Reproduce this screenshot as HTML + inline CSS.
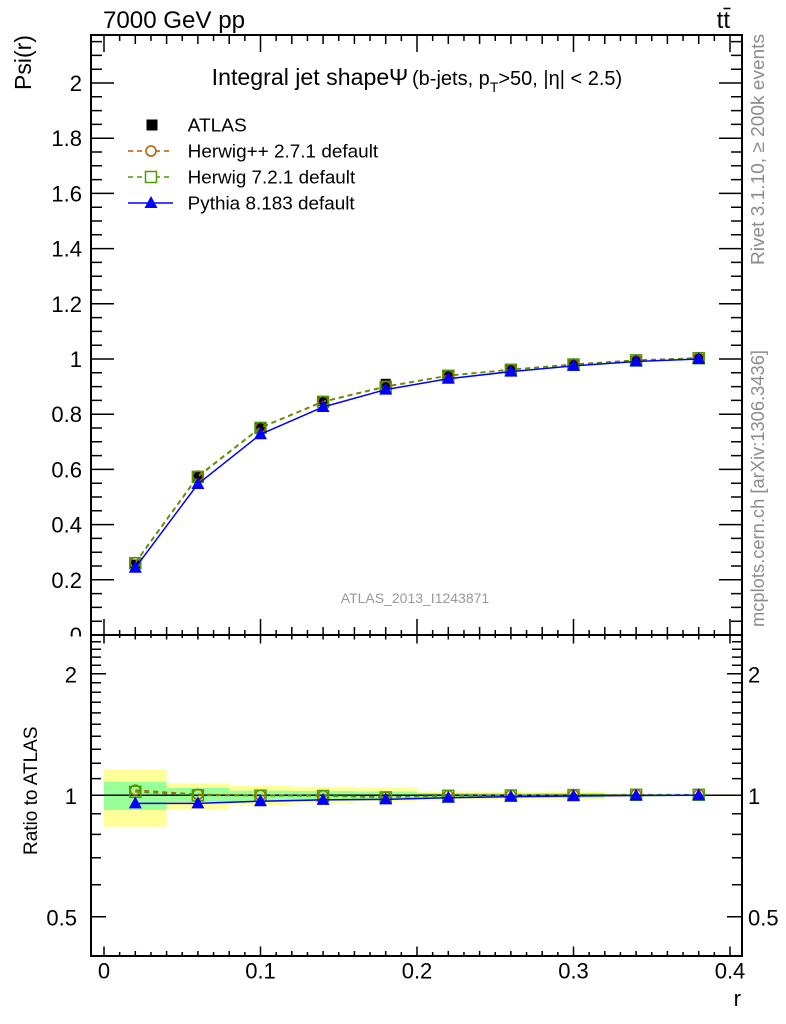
<!DOCTYPE html>
<html><head><meta charset="utf-8"><style>
html,body{margin:0;padding:0;background:#fff;}
svg{display:block}
text{font-family:"Liberation Sans",Arial,sans-serif;}
</style></head><body>
<svg width="786" height="1024" viewBox="0 0 786 1024" xmlns="http://www.w3.org/2000/svg">
<defs>
<path id="xM" d="M104 0V1M260.5 0V1M417 0V1M573.5 0V1M730 0V1"/>
<path id="xS" d="M135.3 0V1M166.6 0V1M197.9 0V1M229.2 0V1M291.8 0V1M323.1 0V1M354.4 0V1M385.7 0V1M448.3 0V1M479.6 0V1M510.9 0V1M542.2 0V1M604.8 0V1M636.1 0V1M667.4 0V1M698.7 0V1"/>
<path id="xT" d="M119.65 0V1M150.95 0V1M182.25 0V1M213.55 0V1M244.85 0V1M276.15 0V1M307.45 0V1M338.75 0V1M370.05 0V1M401.35 0V1M432.65 0V1M463.95 0V1M495.25 0V1M526.55 0V1M557.85 0V1M589.15 0V1M620.45 0V1M651.75 0V1M683.05 0V1M714.35 0V1"/>
<path id="yM" d="M0 579.8H1M0 524.6H1M0 469.4H1M0 414.2H1M0 359H1M0 303.8H1M0 248.6H1M0 193.4H1M0 138.2H1M0 83H1"/>
<path id="ym" d="M0 621.2H1M0 607.4H1M0 593.6H1M0 566H1M0 552.2H1M0 538.4H1M0 510.8H1M0 497H1M0 483.2H1M0 455.6H1M0 441.8H1M0 428H1M0 400.4H1M0 386.6H1M0 372.8H1M0 345.2H1M0 331.4H1M0 317.6H1M0 290H1M0 276.2H1M0 262.4H1M0 234.8H1M0 221H1M0 207.2H1M0 179.6H1M0 165.8H1M0 152H1M0 124.4H1M0 110.6H1M0 96.8H1M0 69.2H1M0 55.4H1M0 41.6H1"/>
<path id="rM" d="M0 916.8H1M0 795.3H1M0 673.8H1"/>
<path id="rm" d="M0 884.8H1M0 857.8H1M0 834.4H1M0 813.8H1M0 778.6H1M0 763.3H1M0 749.3H1M0 736.3H1M0 724.2H1M0 712.9H1M0 702.3H1M0 692.3H1M0 682.8H1M0 665.3H1M0 657.1H1M0 649.3H1M0 641.8H1"/>
<clipPath id="cMain"><rect x="91" y="35" width="651" height="600"/></clipPath>
<clipPath id="cRat"><rect x="91" y="635" width="651" height="321"/></clipPath>
<clipPath id="c0"><rect x="0" y="0" width="90" height="636.5"/></clipPath>
</defs>

<!-- Ratio bands -->
<g clip-path="url(#cRat)">
<g fill="#ffff99">
<rect x="104" y="769.3" width="62.6" height="57.4"/>
<rect x="166.6" y="783.3" width="62.6" height="25.7"/>
<rect x="229.2" y="786" width="62.6" height="19"/>
<rect x="291.8" y="786.7" width="62.6" height="16.6"/>
<rect x="354.4" y="787.3" width="62.6" height="14"/>
<rect x="417" y="791.3" width="62.6" height="8"/>
<rect x="479.6" y="792" width="62.6" height="7"/>
<rect x="542.2" y="791.3" width="62.6" height="8"/>
<rect x="604.8" y="794" width="62.6" height="2.6"/>
<rect x="667.4" y="794.5" width="62.6" height="1.6"/>
</g>
<g fill="#99ff99">
<rect x="104" y="781.7" width="62.6" height="28.3"/>
<rect x="166.6" y="788" width="62.6" height="14"/>
<rect x="229.2" y="790.7" width="62.6" height="11"/>
<rect x="291.8" y="791" width="62.6" height="9"/>
<rect x="354.4" y="791.5" width="62.6" height="8"/>
<rect x="417" y="793" width="62.6" height="4.8"/>
<rect x="479.6" y="793.3" width="62.6" height="4.2"/>
<rect x="542.2" y="793" width="62.6" height="4.8"/>
<rect x="604.8" y="794.5" width="62.6" height="1.7"/>
<rect x="667.4" y="794.8" width="62.6" height="1"/>
</g>
<path d="M91 795.3H742" stroke="#000" stroke-width="1.5"/>
<!-- ratio series -->
<path d="M135.3 790.1L197.9 794.4L260.5 795.3L323.1 795.65L385.7 797.06L448.3 795.65L510.9 795.3L573.5 794.95L636.1 794.6L698.7 794.6" fill="none" stroke="#b35c00" stroke-width="1.5" stroke-dasharray="5 4"/>
<path d="M135.3 791.8L197.9 795.3L260.5 795.65L323.1 796L385.7 797.4L448.3 795.8L510.9 795.5L573.5 795.1L636.1 794.8L698.7 794.8" fill="none" stroke="#4b9b00" stroke-width="1.5" stroke-dasharray="5 4"/>
<g fill="none" stroke="#b35c00" stroke-width="1.5">
<circle cx="135.3" cy="790.1" r="5"/><circle cx="197.9" cy="794.4" r="5"/><circle cx="260.5" cy="795.3" r="5"/><circle cx="323.1" cy="795.65" r="5"/><circle cx="385.7" cy="797.06" r="5"/><circle cx="448.3" cy="795.65" r="5"/><circle cx="510.9" cy="795.3" r="5"/><circle cx="573.5" cy="794.95" r="5"/><circle cx="636.1" cy="794.6" r="5"/><circle cx="698.7" cy="794.6" r="5"/>
</g>
<g fill="none" stroke="#4b9b00" stroke-width="1.5">
<rect x="129.8" y="786.3" width="11" height="11"/><rect x="192.4" y="789.8" width="11" height="11"/><rect x="255" y="790.15" width="11" height="11"/><rect x="317.6" y="790.5" width="11" height="11"/><rect x="380.2" y="791.9" width="11" height="11"/><rect x="442.8" y="790.3" width="11" height="11"/><rect x="505.4" y="790" width="11" height="11"/><rect x="568" y="789.6" width="11" height="11"/><rect x="630.6" y="789.3" width="11" height="11"/><rect x="693.2" y="789.3" width="11" height="11"/>
</g>
<path d="M135.3 803.4L197.9 803.4L260.5 801.2L323.1 799.9L385.7 799.4L448.3 797.8L510.9 796.7L573.5 796L636.1 795.5L698.7 795.3" fill="none" stroke="#0000ff" stroke-width="1.5"/>
<g fill="#0000ff">
<path d="M135.3 796.4L128.8 808.4H141.8Z"/><path d="M197.9 796.4L191.4 808.4H204.4Z"/><path d="M260.5 794.2L254 806.2H267Z"/><path d="M323.1 792.9L316.6 804.9H329.6Z"/><path d="M385.7 792.4L379.2 804.4H392.2Z"/><path d="M448.3 790.8L441.8 802.8H454.8Z"/><path d="M510.9 789.7L504.4 801.7H517.4Z"/><path d="M573.5 789L567 801H580Z"/><path d="M636.1 788.5L629.6 800.5H642.6Z"/><path d="M698.7 788.3L692.2 800.3H705.2Z"/>
</g>
</g>

<!-- Main series -->
<g clip-path="url(#cMain)">
<g fill="#000">
<rect x="130.3" y="559.6" width="10" height="10"/><rect x="192.9" y="471.9" width="10" height="10"/><rect x="255.5" y="422.4" width="10" height="10"/><rect x="318.1" y="395.9" width="10" height="10"/><rect x="380.7" y="378.8" width="10" height="10"/><rect x="443.3" y="370" width="10" height="10"/><rect x="505.9" y="364.5" width="10" height="10"/><rect x="568.5" y="359.8" width="10" height="10"/><rect x="631.1" y="356.2" width="10" height="10"/><rect x="693.7" y="354" width="10" height="10"/>
</g>
<path d="M135.3 562.5L197.9 476.05L260.5 427.4L323.1 401.4L385.7 386.35L448.3 375.5L510.9 369.5L573.5 364.2L636.1 360.1L698.7 357.9" fill="none" stroke="#b35c00" stroke-width="1.5" stroke-dasharray="5 4"/>
<g fill="none" stroke="#b35c00" stroke-width="1.5">
<circle cx="135.3" cy="562.5" r="5"/><circle cx="197.9" cy="476.05" r="5"/><circle cx="260.5" cy="427.4" r="5"/><circle cx="323.1" cy="401.4" r="5"/><circle cx="385.7" cy="386.35" r="5"/><circle cx="448.3" cy="375.5" r="5"/><circle cx="510.9" cy="369.5" r="5"/><circle cx="573.5" cy="364.2" r="5"/><circle cx="636.1" cy="360.1" r="5"/><circle cx="698.7" cy="357.9" r="5"/>
</g>
<path d="M135.3 563.2L197.9 476.9L260.5 427.9L323.1 401.9L385.7 386.9L448.3 375.8L510.9 369.8L573.5 364.5L636.1 360.4L698.7 358.2" fill="none" stroke="#4b9b00" stroke-width="1.5" stroke-dasharray="5 4"/>
<g fill="none" stroke="#4b9b00" stroke-width="1.5">
<rect x="129.8" y="557.7" width="11" height="11"/><rect x="192.4" y="471.4" width="11" height="11"/><rect x="255" y="422.4" width="11" height="11"/><rect x="317.6" y="396.4" width="11" height="11"/><rect x="380.2" y="381.4" width="11" height="11"/><rect x="442.8" y="370.3" width="11" height="11"/><rect x="505.4" y="364.3" width="11" height="11"/><rect x="568" y="359" width="11" height="11"/><rect x="630.6" y="354.9" width="11" height="11"/><rect x="693.2" y="352.7" width="11" height="11"/>
</g>
<path d="M135.3 567.8L197.9 484L260.5 434.3L323.1 407L385.7 389.6L448.3 378.7L510.9 371.6L573.5 365.9L636.1 361.5L698.7 359" fill="none" stroke="#0000ff" stroke-width="1.5"/>
<g fill="#0000ff">
<path d="M135.3 560.8L128.8 572.8H141.8Z"/><path d="M197.9 477L191.4 489H204.4Z"/><path d="M260.5 427.3L254 439.3H267Z"/><path d="M323.1 400L316.6 412H329.6Z"/><path d="M385.7 382.6L379.2 394.6H392.2Z"/><path d="M448.3 371.7L441.8 383.7H454.8Z"/><path d="M510.9 364.6L504.4 376.6H517.4Z"/><path d="M573.5 358.9L567 370.9H580Z"/><path d="M636.1 354.5L629.6 366.5H642.6Z"/><path d="M698.7 352L692.2 364H705.2Z"/>
</g>
</g>

<!-- Ticks -->
<g stroke="#000" stroke-width="1.5" fill="none">
<use href="#xM" transform="translate(0,35) scale(1,17)"/>
<use href="#xS" transform="translate(0,35) scale(1,9)"/>
<use href="#xT" transform="translate(0,35) scale(1,6)"/>
<use href="#xM" transform="translate(0,635) scale(1,-16)"/>
<use href="#xS" transform="translate(0,635) scale(1,-8)"/>
<use href="#xT" transform="translate(0,635) scale(1,-5)"/>
<use href="#xM" transform="translate(0,635) scale(1,8.5)"/>
<use href="#xS" transform="translate(0,635) scale(1,4.5)"/>
<use href="#xT" transform="translate(0,635) scale(1,3)"/>
<use href="#xM" transform="translate(0,956) scale(1,-9.5)"/>
<use href="#xS" transform="translate(0,956) scale(1,-5)"/>
<use href="#xT" transform="translate(0,956) scale(1,-4)"/>
<use href="#yM" transform="translate(91,0) scale(23,1)"/>
<use href="#ym" transform="translate(91,0) scale(11,1)"/>
<use href="#yM" transform="translate(742,0) scale(-23,1)"/>
<use href="#ym" transform="translate(742,0) scale(-11,1)"/>
<use href="#rM" transform="translate(91,0) scale(15,1)"/>
<use href="#rm" transform="translate(91,0) scale(10,1)"/>
<use href="#rM" transform="translate(742,0) scale(-15,1)"/>
<use href="#rm" transform="translate(742,0) scale(-10,1)"/>
</g>
<!-- Frames -->
<rect x="91" y="35" width="651" height="600" fill="none" stroke="#000" stroke-width="2"/>
<rect x="91" y="635" width="651" height="321" fill="none" stroke="#000" stroke-width="2"/>

<!-- Main Y labels -->
<g font-size="22" text-anchor="end" fill="#000">
<text x="82" y="91">2</text>
<text x="82" y="146.2">1.8</text>
<text x="82" y="201.4">1.6</text>
<text x="82" y="256.6">1.4</text>
<text x="82" y="311.8">1.2</text>
<text x="82" y="367">1</text>
<text x="82" y="422.2">0.8</text>
<text x="82" y="477.4">0.6</text>
<text x="82" y="532.6">0.4</text>
<text x="82" y="587.8">0.2</text>
<text x="82" y="643" clip-path="url(#c0)">0</text>
</g>
<!-- Ratio Y labels -->
<g font-size="22" fill="#000">
<text x="77" y="682.3" text-anchor="end">2</text>
<text x="77" y="803.8" text-anchor="end">1</text>
<text x="77" y="925.3" text-anchor="end">0.5</text>
<text x="748" y="682.3">2</text>
<text x="748" y="803.8">1</text>
<text x="748" y="925.3">0.5</text>
</g>
<!-- X labels -->
<g font-size="22" text-anchor="middle" fill="#000">
<text x="104" y="978.5">0</text>
<text x="260.5" y="978.5">0.1</text>
<text x="417" y="978.5">0.2</text>
<text x="573.5" y="978.5">0.3</text>
<text x="730" y="978.5">0.4</text>
</g>
<text x="741" y="1006" font-size="22" text-anchor="end">r</text>

<!-- Axis titles -->
<text transform="translate(31,90) rotate(-90)" font-size="23">Psi(r)</text>
<text transform="translate(37,855) rotate(-90)" font-size="19">Ratio to ATLAS</text>

<!-- Header -->
<text x="103" y="28" font-size="24" textLength="142" lengthAdjust="spacingAndGlyphs">7000 GeV pp</text>
<text x="730" y="28" font-size="24" text-anchor="end">tt</text>
<path d="M723.5 8.5H730.5" stroke="#000" stroke-width="1.6"/>

<!-- Title -->
<text x="211.7" y="85" font-size="23" textLength="177.5" lengthAdjust="spacingAndGlyphs">Integral jet shape</text>
<text x="389" y="85" font-size="23">Ψ</text>
<text x="412" y="85" font-size="20">(b-jets, p<tspan font-size="14" dy="7">T</tspan><tspan dy="-7">&gt;50, |η| &lt; 2.5)</tspan></text>

<!-- Legend -->
<rect x="146.5" y="119.5" width="11" height="11" fill="#000"/>
<text x="187.7" y="131.5" font-size="18" textLength="59" lengthAdjust="spacingAndGlyphs">ATLAS</text>
<path d="M128 151H173" stroke="#b35c00" stroke-width="1.5" stroke-dasharray="5 4"/>
<circle cx="151" cy="151" r="5" fill="#fff" stroke="#b35c00" stroke-width="1.5"/>
<text x="187.7" y="157.5" font-size="18" textLength="190.5" lengthAdjust="spacingAndGlyphs">Herwig++ 2.7.1 default</text>
<path d="M128 177H173" stroke="#4b9b00" stroke-width="1.5" stroke-dasharray="5 4"/>
<rect x="145.5" y="171.5" width="11" height="11" fill="#fff" stroke="#4b9b00" stroke-width="1.5"/>
<text x="187.7" y="183.5" font-size="18" textLength="167.5" lengthAdjust="spacingAndGlyphs">Herwig 7.2.1 default</text>
<path d="M128 203H173" stroke="#0000ff" stroke-width="1.5"/>
<path d="M151 196L144.5 208H157.5Z" fill="#0000ff"/>
<text x="187.7" y="209.5" font-size="18" textLength="167" lengthAdjust="spacingAndGlyphs">Pythia 8.183 default</text>

<!-- Side / watermark texts -->
<text x="415" y="603" font-size="14" text-anchor="middle" fill="#999">ATLAS_2013_I1243871</text>
<text transform="translate(764,265) rotate(-90)" font-size="18.5" fill="#8c8c8c" textLength="231" lengthAdjust="spacingAndGlyphs">Rivet 3.1.10, ≥ 200k events</text>
<text transform="translate(764,627) rotate(-90)" font-size="18.5" fill="#8c8c8c" textLength="277" lengthAdjust="spacingAndGlyphs">mcplots.cern.ch [arXiv:1306.3436]</text>
</svg>
</body></html>
